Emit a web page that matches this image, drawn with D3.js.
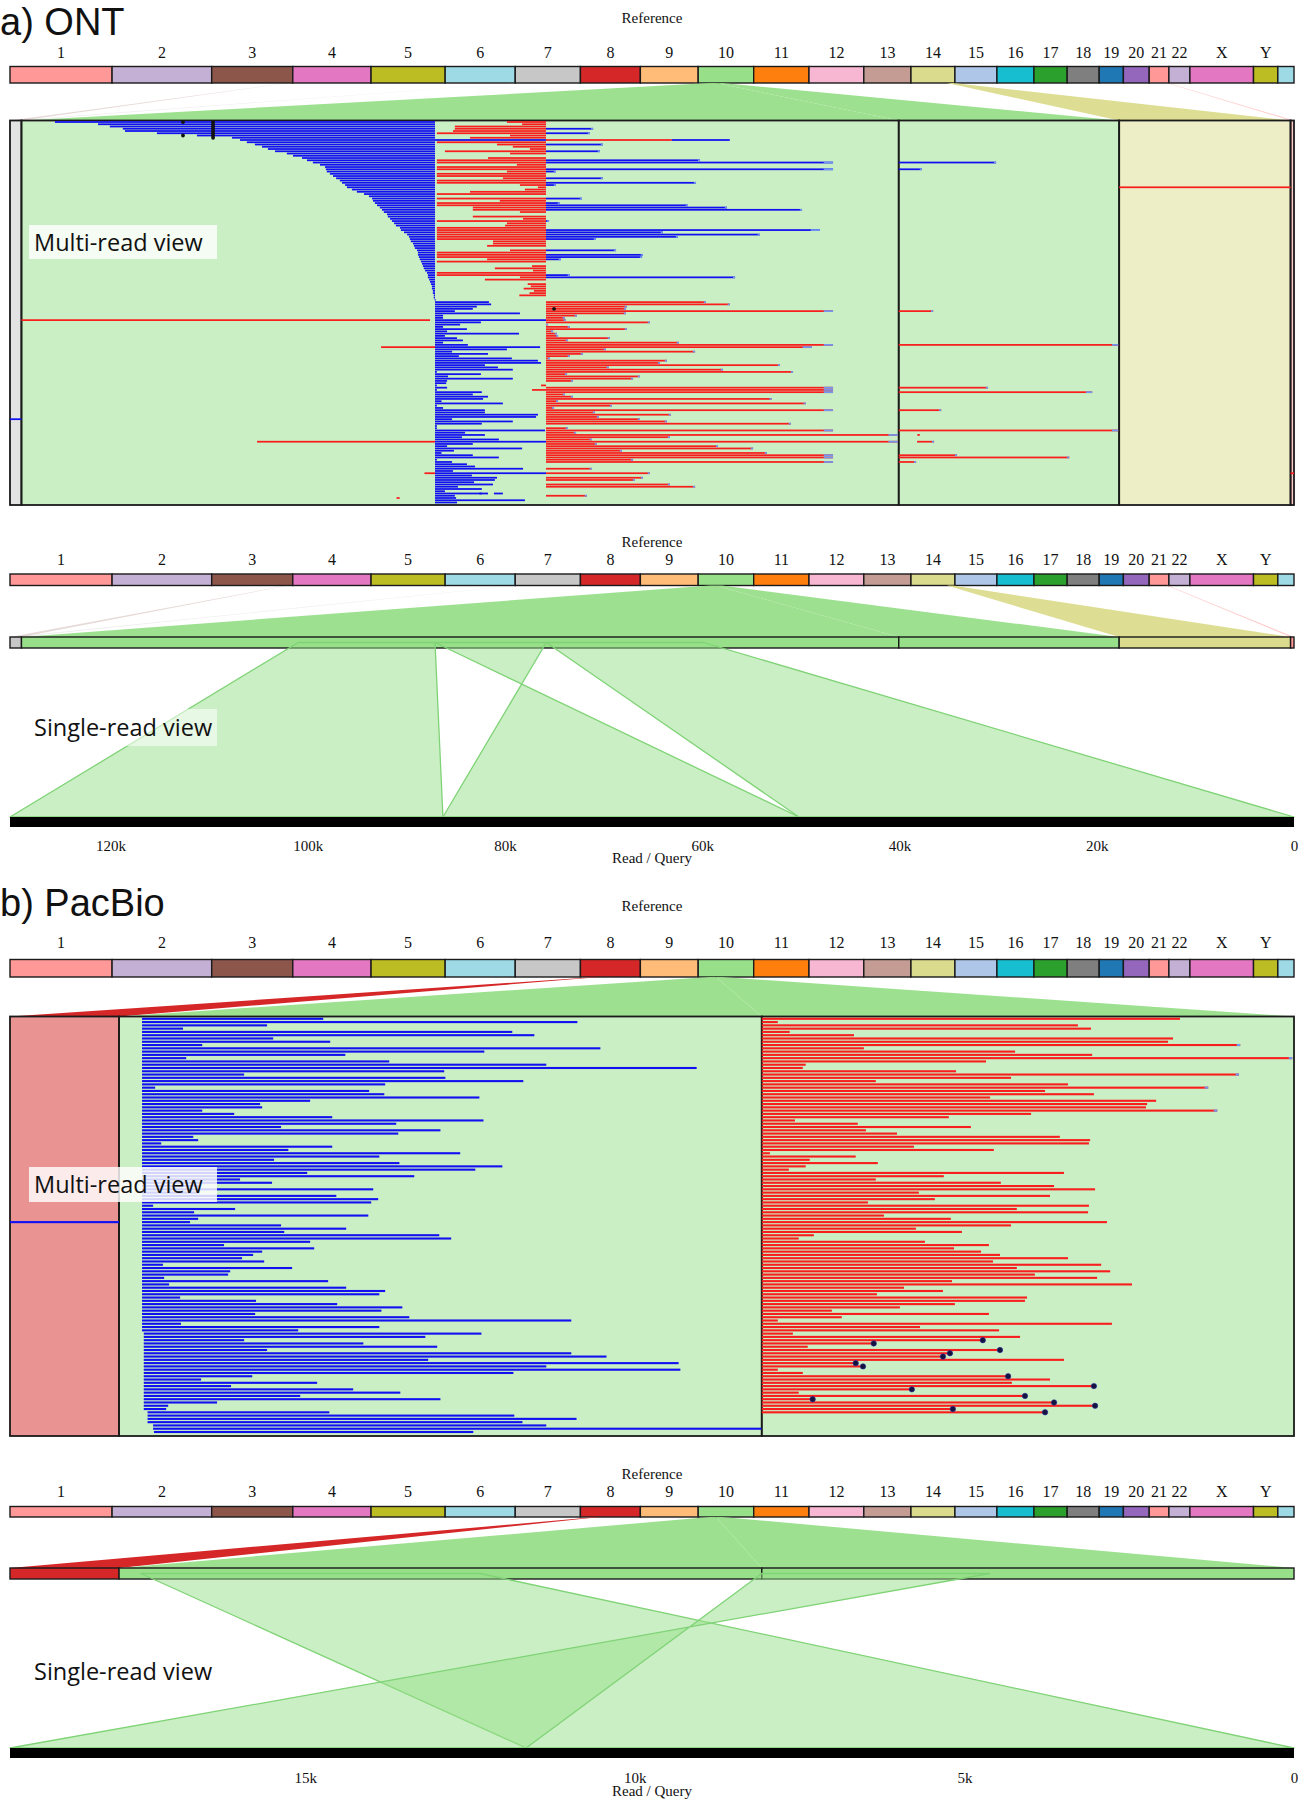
<!DOCTYPE html>
<html>
<head>
<meta charset="utf-8">
<script src="https://cdn.jsdelivr.net/npm/d3@7/dist/d3.min.js"></script>
<style>
body{margin:0;background:#fff;}
.serif{font-family:"Liberation Serif","DejaVu Serif",serif;fill:#111;}
.sans{font-family:"Open Sans","Noto Sans",sans-serif;fill:#111;}
.title{font-family:"Liberation Sans","DejaVu Sans",sans-serif;fill:#111;}
</style>
</head>
<body>
<svg id="chart" width="1298" height="1800" xmlns="http://www.w3.org/2000/svg"></svg>
<script>
// ================= DATA =================
const chromNames = ["1","2","3","4","5","6","7","8","9","10","11","12","13","14","15","16","17","18","19","20","21","22","X","Y",""];
const chromLengths = [249.25,243.2,198.02,191.15,180.92,171.12,159.14,146.36,141.21,135.53,135.01,133.85,115.17,107.35,102.53,90.35,81.2,78.08,59.13,63.03,48.13,51.3,155.27,59.37,39.5]; // Mb
const chromColors = ["#ff9896","#c5b0d5","#8c564b","#e377c2","#bcbd22","#9edae5","#c7c7c7","#d62728","#ffbb78","#98df8a","#ff7f0e","#f7b6d2","#c49c94","#dbdb8d","#aec7e8","#17becf","#2ca02c","#7f7f7f","#1f77b4","#9467bd","#ff9896","#c5b0d5","#e377c2","#bcbd22","#9edae5"];

// ---- ONT: reference segments shown ----
const ontSegChrom = ["7","10","10","14","21"];
const ontSegLen   = [3.7, 283, 71.1, 55.3, 1.1];      // kb
const ontSegPosMb = [1.0, 36.1, 50.8, 95.0, 44.0];    // where each segment sits on its chromosome
const ontLinkChrom = ["3"], ontLinkPosMb = [185], ontLinkSeg = [0];
const ontBreaks = [133.4, 169.2];                     // kb in segment 1

// top group of reads (blue to break 1, red to break 2, blue from break 2)
const ontTopBlueStart = [10.8,24.7,28.5,32.7,33.4,43.7,56.6,67.9,70.5,72.7,75.3,77.6,79.5,81.8,85.6,87.6,90.5,92.1,94,96.3,
  97.9,98.2,98.5,99.5,100.5,101.5,102.7,103.4,104.4,105,106.6,108.2,110.5,112.1,113.1,113.4,114,114.7,115.6,116.3,
  116.9,117.9,118.2,118.9,119.5,120.2,120.8,122.1,122.4,123.4,124.4,125,125.3,125.6,126.3,126.6,126.9,127.6,127.9,127.9,
  128.2,128.5,128.9,129.2,129.5,129.8,130.2,130.8,131.1,131.1,131.5,131.8,132.1,132.4,132.4,132.7,132.7,133,133,133.3];
const ontTopRedStart = [156.6,161.5,139.8,139.8,139.2,134,157.6,144.7,null,134,
  153.4,158.5,164,136.6,157.6,null,150.5,134,134,159.8,
  134,134,156.6,134,134,155.3,134,134,160.8,166.6,
  162.4,144.7,134,null,134,154.3,134,134,145.6,145.6,
  160.8,null,145.6,161.8,134,156.6,156,134,134,134,
  134,134,134,152.1,152.1,150.2,null,157.6,134,134,
  134,150.2,134,null,164.7,152.7,165,134,134,160.8,
  149.5,null,163.3,164.3,162,165.3,163.9,160.6,null,null];
const ontTopBlueEnd = [null,null,null,184.4,null,183.4,null,null,null,null,
  187.6,null,null,186.6,null,null,null,218.9,261.8,null,
  null,261.8,172.4,null,null,187.6,null,217.6,172.4,null,
  null,null,null,null,180.8,null,173.7,215,227.6,251.8,
  null,null,null,null,170.2,null,null,null,257.6,206.9,
  238.2,211.8,185.3,null,null,null,null,191.8,null,200.5,
  200.2,174,null,null,null,null,null,null,176.9,230.2,
  null,null,null,null,null,null,null,null,null,null];
// bottom group (blue from break 1, red from break 2)
const ontBotBlueEnd = [150.8,151.5,146.9,145.6,139.8,160.8,136,136,169.2,148.2,
  141.5,136,143.7,137.3,160.5,136.6,140.5,142.4,136,144,
  167.3,156.6,138.9,150.5,141.1,158.2,166.6,167.6,149.5,153.7,
  158.5,134,148.2,137.6,158.5,137.3,137,134,137.3,134,
  148.5,145.6,150.5,148.9,135.5,155.3,134,136,149.5,149.5,
  166.6,166,138.9,158.5,148.5,134,134,168.9,143.1,149.5,
  142.1,154,169.2,145.6,137.3,161.5,139.5,135.5,145.6,154,
  134,138.9,143.7,146.3,161.8,139.2,169.2,145.3,153.4,152.7,
  146,152.1,140.8,148.5,136.6,148.5,139.8,140.2,162.4,140.5];
const ontBotRedEnd = [220.8,228.5,195.3,195,261.8,195,179.2,175.3,175.6,202.7,
  169.8,176.9,195.3,171.5,172.7,173.1,189.8,176.3,212.1,261.8,
  255,188.5,217.3,181.1,176.9,170.5,208.2,206,244.7,189.5,
  226.3,248.9,176,199.5,197.3,177.9,null,null,261.8,261.8,
  261.8,175.3,177.9,242,173.1,253,190.5,171.8,261.8,185,
  209.5,186.3,199.5,208.2,248.2,null,176.3,261.8,178.9,282.7,
  209.2,184,282.7,185.6,224.7,236,193.7,240.5,261.8,261.8,
  197.3,261.8,null,null,184,null,202.7,null,200.5,197.9,
  null,209.2,217.3,null,null,null,182.4,null,null,null];
// extra alignment pieces: row, segment, from kb, to kb, strand colour
const ontExtraRow  = [8,8,8,18,21,29,84,88,99,100,117,118,119,120,128,132,137,139,142,142,148,149,151,156,156,165,165,167];
const ontExtraSeg  = [1,1,1,2,2,3,2,1,2,1,1,2,1,2,2,0,2,2,1,2,2,2,2,1,4,1,1,1];
const ontExtraFrom = [133.4,169.2,209.8,0,0,0,0,0,0,116,167.6,0,164.7,0,0,0,0,6,76,5.9,0,0,0,130,0,147.7,152.4,121];
const ontExtraTo   = [169.2,209.8,228.5,31.4,7.5,55.3,11.1,131.8,70.8,133.4,169.2,28.8,169.2,62.4,13.7,3.7,70.8,6.8,133.4,11.4,18.8,55,5.6,133.4,1.1,150.5,155.3,122];
const ontExtraColor= ["b","r","b","b","b","r","r","r","r","r","r","r","r","r","r","b","r","r","r","r","r","r","r","r","r","b","b","r"];
const ontDotRow = [0,6,0,1,2,3,4,5,6,7,83];
const ontDotKb  = [52.1,52.1,61.8,61.8,61.8,61.8,61.8,61.8,61.8,61.8,171.8];
// ONT single read
const ontReadLen = 130.2;
const ontAlnSeg = [1,1,1];
const ontAlnQ1 = [130.2, 86.3, 50.2];
const ontAlnR1 = [89.3, 169.3, 169.3];
const ontAlnQ2 = [86.3, 50.2, 0];
const ontAlnR2 = [133.4, 133.4, 220.0];
const ontTicks = [0,20,40,60,80,100,120];

// ---- PacBio ----
const pacSegChrom = ["8","10","10"];
const pacSegLen   = [3.75, 22.1, 18.3];
const pacSegPosMb = [43.0, 36.1, 50.8];
const pacBlueStart = [0.79,0.79,0.79,0.79,0.79,0.79,0.79,0.79,0.79,0.79,0.79,0.79,0.79,0.79,0.79,0.79,
  0.79,0.79,0.79,0.79,0.79,0.79,0.79,0.79,0.79,0.79,0.79,0.79,0.79,0.79,0.79,0.79,
  0.79,0.79,0.79,0.79,0.79,0.79,0.79,0.79,0.79,0.79,0.79,0.79,0.79,0.79,0.79,0.79,
  0.79,0.79,0.79,0.79,0.79,0.79,0.79,0.79,0.79,0.79,0.79,0.79,0.79,0.79,0.79,0.79,
  0.79,0.79,0.79,0.79,0.79,0.79,0.79,0.79,0.79,0.79,0.79,0.79,0.79,0.79,0.79,0.79,
  0.79,0.79,0.79,0.79,0.79,0.79,0.79,0.79,0.79,0.79,0.79,0.79,0.79,0.79,0.79,0.79,
  0.85,0.85,0.85,0.85,0.85,0.85,0.85,0.85,0.85,0.85,0.85,0.85,
  0.85,0.85,0.85,0.85,0.85,0.85,0.85,0.85,0.85,0.85,0.85,0.85,
  0.98,0.98,0.98,0.98,1.17,1.17,1.2];
const pacBlueEnd = [7.02,15.76,5.09,2.2,13.52,14.28,5.3,7.26,2.86,16.55,
  12.56,7.78,2.31,9.29,14.69,19.86,11.18,4.3,11.22,13.9,
  9.15,1.24,8.6,9.12,12.39,6.57,4.85,4.92,2.86,3.96,
  7.33,12.53,9.53,5.57,11.05,9.6,2.55,2.72,1.45,7.33,
  5.82,11.73,8.95,5.33,9.64,13.18,12.25,6.47,10.15,4.16,
  5.26,2.75,8.74,2.75,7.47,8.91,8.67,1.17,3.99,2.58,
  8.57,2.72,2.44,5.57,7.81,5.68,11.01,11.42,6.57,3.61,
  6.71,4.92,4.61,4.23,4.99,1.51,5.95,3.82,3.75,1.55,
  7.19,1.72,7.81,9.15,8.95,2.1,4.71,7.5,9.74,9.02,
  4.68,9.98,15.55,2.13,8.95,6.16,12.46,10.53,4.3,8.4,
  10.94,5.09,15.55,16.76,10.63,19.24,14.69,19.3,13.56,4.58,
  2.82,6.81,3.85,8.05,9.67,6.23,11.05,3.37,1.69,1.62,
  7.23,13.59,15.73,13.87,14.69,22.09,12.18];
const pacRedEnd = [14.38,0.55,10.87,11.32,0.96,3.17,14.14,13.97,16.45,3.51,
  8.71,11.36,18.24,7.71,1.51,1.41,6.68,16.41,8.57,3.92,
  10.53,15.35,9.74,11.42,7.85,13.56,13.25,13.21,15.66,9.26,
  6.43,1.14,3.3,7.19,3.58,4.65,10.25,11.29,11.25,5.23,
  7.98,0.28,3.23,1.65,3.99,1.51,0.93,10.39,6.26,3.92,
  8.22,10.05,11.46,5.4,9.91,5.95,3.65,11.25,8.77,11.22,
  4.2,6.5,11.87,8.57,5.3,6.88,1.79,1.27,5.61,7.81,
  6.61,7.54,8.19,10.53,7.95,11.67,8.77,11.98,9.39,11.53,
  6.54,12.73,4.89,6.23,3.96,9.12,9.05,6.64,4.75,2.41,
  7.81,2.75,0.55,12.04,5.44,8.16,1.07,8.88,
  7.6,3.85,1.58,8.19,6.47,6.23,10.39,3.23,3.48,0.55,
  1.41,8.47,9.91,8.6,11.42,5.16,1.27,9.05,1.75,10.05,
  11.46,6.57,9.74];
const pacDotRows = [98,99,101,102,103,105,106,109,112,113,115,116,117,118,119,120];
const pacExtraRow = [62], pacExtraSeg = [0], pacExtraFrom = [0], pacExtraTo = [3.75], pacExtraColor = ["b"];
// PacBio single read
const pacReadLen = 19.48;
const pacAlnSeg = [1,2];
const pacAlnQ1 = [11.65, 19.48];
const pacAlnR1 = [0.75, 7.84];
const pacAlnQ2 = [0, 11.65];
const pacAlnR2 = [12.41, 0.0];
const pacTicks = [0,5,10,15];

// ================= DRAWING =================
const svg = d3.select("#chart");
const L = 10, R = 1294;
const BLUE = "#1010f0", RED = "#f81e1e", TAIL = "#7397f0";
const chromOffsets = chromLengths.map((d,i)=>d3.sum(chromLengths.slice(0,i)));
const gx = d3.scaleLinear().domain([0, d3.sum(chromLengths)]).range([L, R]);
const chromIndex = n => chromNames.indexOf(n);

function chromBar(yTop, h, labelBase, refBase){
  const g = svg.append("g");
  g.append("text").attr("class","serif").attr("x",(L+R)/2).attr("y",refBase)
    .attr("text-anchor","middle").style("font-size","15px").text("Reference");
  g.selectAll("rect.chr").data(chromNames).join("rect").attr("class","chr")
    .attr("x",(d,i)=>gx(chromOffsets[i])).attr("y",yTop)
    .attr("width",(d,i)=>gx(chromOffsets[i]+chromLengths[i])-gx(chromOffsets[i]))
    .attr("height",h).attr("fill",(d,i)=>chromColors[i])
    .attr("stroke","#1a1a1a").attr("stroke-width",1.4);
  g.selectAll("text.cl").data(chromNames).join("text").attr("class","serif cl")
    .attr("x",(d,i)=>gx(chromOffsets[i]+chromLengths[i]/2)).attr("y",labelBase)
    .attr("text-anchor","middle").style("font-size","16px").text(d=>d);
}

function segLayout(lens){
  const offs = lens.map((d,i)=>d3.sum(lens.slice(0,i)));
  const sc = d3.scaleLinear().domain([0, d3.sum(lens)]).range([L, R]);
  return {lens, offs, x:(s,v)=>sc(offs[s]+v)};
}

function fans(lay, segChrom, segPos, yTop, yBot, opac, hw, links){
  const g = svg.append("g");
  const data = segChrom.map((c,i)=>({c:chromIndex(c), pos:segPos[i], s:i, o:opac[i], hw:hw[i]}));
  (links||[]).forEach(l=>data.push(l));
  g.selectAll("polygon").data(data).join("polygon")
    .attr("points", d=>{
      const cx = gx(chromOffsets[d.c]+d.pos);
      return [[cx-d.hw,yTop],[cx+d.hw,yTop],[lay.x(d.s,lay.lens[d.s]),yBot],[lay.x(d.s,0),yBot]].map(p=>p.join(",")).join(" ");
    })
    .attr("fill", d=>chromColors[d.c]).attr("fill-opacity", d=>d.o).attr("stroke","none");
}

function segBoxes(lay, segChrom, yTop, h, light){
  const g = svg.append("g");
  g.selectAll("rect").data(segChrom).join("rect")
    .attr("x",(d,i)=>lay.x(i,0)).attr("y",yTop)
    .attr("width",(d,i)=>lay.x(i,lay.lens[i])-lay.x(i,0)).attr("height",h)
    .attr("fill",d=>chromColors[chromIndex(d)]).attr("fill-opacity", light?0.5:1)
    .attr("stroke","#1a1a1a").attr("stroke-width", light?1.8:1.4);
  return g;
}

function drawPieces(lay, pieces, rowY, th){
  const g = svg.append("g");
  g.selectAll("rect").data(pieces).join("rect")
    .attr("x",d=>lay.x(d.seg,d.from))
    .attr("width",d=>Math.max(0.9, lay.x(d.seg,d.to)-lay.x(d.seg,d.from)))
    .attr("y",d=>rowY(d.row)-th/2).attr("height",th)
    .attr("fill",d=>d.c==="b"?BLUE:(d.c==="r"?RED:TAIL));
  return g;
}

function labelBox(x, y, w, h, text, base, op){
  svg.append("rect").attr("x",x).attr("y",y).attr("width",w).attr("height",h)
    .attr("fill","#fff").attr("fill-opacity",op);
  svg.append("text").attr("class","sans").attr("x",x+5).attr("y",base)
    .style("font-size","23.5px").text(text);
}

function singleRead(lay, segChrom, barTop, barH, qTop, qH, readLen, aln, ticks, tickBase, titleBase){
  segBoxes(lay, segChrom, barTop, barH, false);
  const qx = d3.scaleLinear().domain([readLen, 0]).range([L, R]);
  const yT = barTop + barH*0.5, yB = qTop;
  const g = svg.append("g");
  g.selectAll("polygon").data(aln).join("polygon")
    .attr("points", d=>[[lay.x(d.seg,d.r1),yT],[lay.x(d.seg,d.r2),yT],[qx(d.q2),yB],[qx(d.q1),yB]].map(p=>p.join(",")).join(" "))
    .attr("fill","#98df8a").attr("fill-opacity",0.5)
    .attr("stroke","#7fd376").attr("stroke-width",1.3).attr("stroke-linejoin","round");
  svg.append("rect").attr("x",qx(readLen)).attr("y",qTop).attr("width",qx(0)-qx(readLen)).attr("height",qH).attr("fill","#000");
  const ax = svg.append("g").attr("transform",`translate(0,${tickBase-10.6})`)
    .call(d3.axisBottom(qx).tickValues(ticks).tickSize(0).tickPadding(0).tickFormat(d=>d===0?"0":d+"k"));
  ax.select(".domain").remove();
  ax.selectAll("text").attr("class","serif").attr("font-family",null).style("font-size","15px").style("fill","#111");
  ax.attr("font-family",null).attr("font-size",null);
  svg.append("text").attr("class","serif").attr("x",(L+R)/2).attr("y",titleBase)
    .attr("text-anchor","middle").style("font-size","15px").text("Read / Query");
}

// ---------- Panel a: ONT ----------
svg.append("text").attr("class","title").attr("x",0).attr("y",35).style("font-size","38px").text("a) ONT");
const ontLay = segLayout(ontSegLen);
const ontOpac = [0.3, 0.95, 0.95, 0.95, 0.5];
const ontHw = [0.6, 3, 3, 3, 0.6];
const ontLinks = ontLinkChrom.map((c,i)=>({c:chromIndex(c), pos:ontLinkPosMb[i], s:ontLinkSeg[i], o:0.22, hw:0.6}));

chromBar(66.5, 16.5, 57.5, 23);
fans(ontLay, ontSegChrom, ontSegPosMb, 83, 120.5, ontOpac, ontHw, ontLinks);
segBoxes(ontLay, ontSegChrom, 120.5, 384.5, true);

// build read pieces
const ontPieces = [];
const addTail = (arr,p,longT,shortT,thr)=>{ const t = p.to>=thr?longT:shortT; arr.push({row:p.row,seg:p.seg,from:Math.max(p.from,p.to-t),to:p.to,c:"t"}); };
ontTopBlueStart.forEach((s,i)=>{
  ontPieces.push({row:i,seg:1,from:s,to:ontBreaks[0],c:"b"});
  if(ontTopRedStart[i]!==null) ontPieces.push({row:i,seg:1,from:ontTopRedStart[i],to:ontBreaks[1],c:"r"});
  if(ontTopBlueEnd[i]!==null){ const p={row:i,seg:1,from:ontBreaks[1],to:ontTopBlueEnd[i],c:"b"}; ontPieces.push(p); addTail(ontPieces,p,3,0.7,255); }
});
const nTop = ontTopBlueStart.length;
ontBotBlueEnd.forEach((e,j)=>{
  const i = nTop + j;
  ontPieces.push({row:i,seg:1,from:ontBreaks[0],to:e,c:"b"});
  if(ontBotRedEnd[j]!==null){ const p={row:i,seg:1,from:ontBreaks[1],to:ontBotRedEnd[j],c:"r"}; ontPieces.push(p); addTail(ontPieces,p,3,0.7,255); }
});
ontExtraRow.forEach((r,k)=>{
  const p = {row:r,seg:ontExtraSeg[k],from:ontExtraFrom[k],to:ontExtraTo[k],c:ontExtraColor[k]};
  ontPieces.push(p);
  if(p.seg===2 && p.to-p.from>3) addTail(ontPieces,p,2,0.7,60);
});
const ontRows = nTop + ontBotBlueEnd.length;
const ontRowY = d3.scaleLinear().domain([0, ontRows-1]).range([122, 502.5]);
drawPieces(ontLay, ontPieces, ontRowY, 1.75);
svg.append("g").selectAll("circle").data(ontDotRow).join("circle")
  .attr("cx",(d,i)=>ontLay.x(1,ontDotKb[i])).attr("cy",d=>ontRowY(d)).attr("r",1.9).attr("fill","#111");
labelBox(29, 225, 188, 34, "Multi-read view", 251, 0.8);

// single-read view (ONT)
chromBar(574, 11.5, 564.5, 547);
fans(ontLay, ontSegChrom, ontSegPosMb, 585.5, 637, ontOpac, ontHw, ontLinks);
const ontAln = ontAlnSeg.map((s,i)=>({seg:s,q1:ontAlnQ1[i],r1:ontAlnR1[i],q2:ontAlnQ2[i],r2:ontAlnR2[i]}));
singleRead(ontLay, ontSegChrom, 637, 11, 817, 10, ontReadLen, ontAln, ontTicks, 851, 863);
labelBox(29, 709, 188, 37, "Single-read view", 736, 0.55);

// ---------- Panel b: PacBio ----------
svg.append("text").attr("class","title").attr("x",0).attr("y",916).style("font-size","38px").text("b) PacBio");
const pacLay = segLayout(pacSegLen);
const pacOpac = [1, 0.95, 0.95];
const pacHw = [1.8, 3, 3];
chromBar(959.5, 17.5, 948, 911);
fans(pacLay, pacSegChrom, pacSegPosMb, 977, 1016.5, pacOpac, pacHw, []);
segBoxes(pacLay, pacSegChrom, 1016.5, 419.5, true);
const pacPieces = [];
pacBlueEnd.forEach((e,i)=>{ pacPieces.push({row:i,seg:1,from:pacBlueStart[i],to:e,c:"b"}); });
pacRedEnd.forEach((e,i)=>{ const p={row:i,seg:2,from:0,to:e,c:"r"}; pacPieces.push(p); if(e>=15) addTail(pacPieces,p,0.12,0.12,0); });
pacExtraRow.forEach((r,k)=>pacPieces.push({row:r,seg:pacExtraSeg[k],from:pacExtraFrom[k],to:pacExtraTo[k],c:pacExtraColor[k]}));
const pacRowY = d3.scaleLinear().domain([0, pacBlueEnd.length-1]).range([1018.8, 1432]);
drawPieces(pacLay, pacPieces, pacRowY, 2.1);
svg.append("g").selectAll("circle").data(pacDotRows).join("circle")
  .attr("cx",d=>pacLay.x(2,pacRedEnd[d])).attr("cy",d=>pacRowY(d)).attr("r",2.7)
  .attr("fill","#14143c").attr("stroke","#2a2aa0").attr("stroke-width",0.6);
labelBox(29, 1167, 188, 35, "Multi-read view", 1193, 0.82);

// single-read view (PacBio)
chromBar(1506.5, 10.5, 1497, 1479);
fans(pacLay, pacSegChrom, pacSegPosMb, 1517, 1568, pacOpac, pacHw, []);
const pacAln = pacAlnSeg.map((s,i)=>({seg:s,q1:pacAlnQ1[i],r1:pacAlnR1[i],q2:pacAlnQ2[i],r2:pacAlnR2[i]}));
singleRead(pacLay, pacSegChrom, 1568, 11, 1748, 10, pacReadLen, pacAln, pacTicks, 1783, 1796);
labelBox(29, 1654, 188, 36, "Single-read view", 1680, 0.6);
</script>
</body>
</html>
